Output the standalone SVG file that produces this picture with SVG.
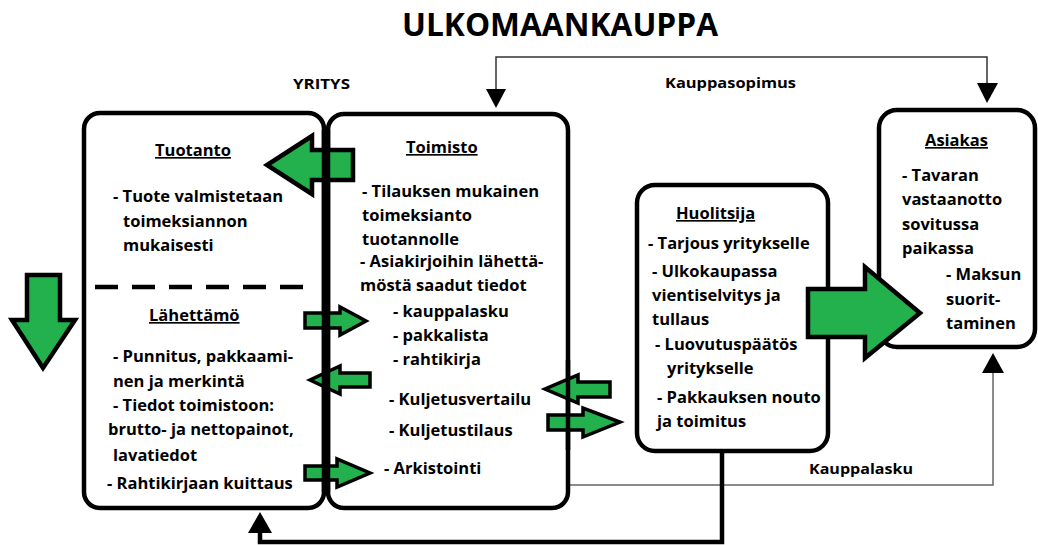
<svg xmlns="http://www.w3.org/2000/svg" width="1038" height="545" viewBox="0 0 1038 545">
<style>
.box{fill:#fff;stroke:#000;stroke-width:4.5}
.t{font-family:"Open Sans","Liberation Sans",sans-serif;font-weight:700;font-size:16.5px;fill:#000}
.h{text-decoration:underline}
.title{font-size:32px}
.lbl{font-size:15px}
.g{fill:#22b14c;stroke:#000;stroke-width:4.5;stroke-linejoin:miter}
.gs{fill:#22b14c;stroke:#000;stroke-width:3.5;stroke-linejoin:miter}
.thin{fill:none;stroke:#333;stroke-width:1.5}
.gray{fill:none;stroke:#666;stroke-width:1.5}
.thick{fill:none;stroke:#000;stroke-width:4.5}
.ah{fill:#000}
</style>
<rect width="1038" height="545" fill="#fff"/>
<text class="t title" x="402" y="36" textLength="316" lengthAdjust="spacingAndGlyphs">ULKOMAANKAUPPA</text>
<text class="t lbl" x="293" y="89" textLength="57" lengthAdjust="spacingAndGlyphs">YRITYS</text>
<text class="t lbl" x="665" y="88" textLength="131" lengthAdjust="spacingAndGlyphs">Kauppasopimus</text>
<text class="t lbl" x="809" y="474" textLength="104" lengthAdjust="spacingAndGlyphs">Kauppalasku</text>

<g id="connectors">
<path class="thin" d="M496,90 V57 H987 V84"/>
<polygon class="ah" points="486,89 506,89 496,108"/>
<polygon class="ah" points="977,83 998,83 987,103"/>
<path class="gray" d="M568,485 H993 V372"/>
<polygon class="ah" points="982,373 1004,373 993,353"/>
<path class="thick" d="M722,452 V542 H260 V530"/>
<polygon class="ah" points="248,533 272,533 260,512"/>
</g>

<g id="yritys-tuotanto-lahettamo">
<rect class="box" x="84" y="113" width="240" height="395" rx="16"/>
<line x1="95" y1="287" x2="316" y2="287" stroke="#000" stroke-width="4.5" stroke-dasharray="23,14"/>
<text class="t h" x="155" y="156">Tuotanto</text>
<text class="t" x="113" y="202">- Tuote valmistetaan</text>
<text class="t" x="123" y="227">toimeksiannon</text>
<text class="t" x="123" y="251">mukaisesti</text>
<text class="t h" x="149" y="321">Lähettämö</text>
<text class="t" x="113" y="362">- Punnitus, pakkaami-</text>
<text class="t" x="113" y="387">nen ja merkintä</text>
<text class="t" x="113" y="411">- Tiedot toimistoon:</text>
<text class="t" x="108" y="435">brutto- ja nettopainot,</text>
<text class="t" x="113" y="461">lavatiedot</text>
<text class="t" x="107" y="489">- Rahtikirjaan kuittaus</text>
</g>

<g id="toimisto">
<rect class="box" x="328" y="114" width="240" height="394" rx="16"/>
<text class="t h" x="406" y="153">Toimisto</text>
<text class="t" x="362" y="197">- Tilauksen mukainen</text>
<text class="t" x="362" y="221">toimeksianto</text>
<text class="t" x="362" y="245">tuotannolle</text>
<text class="t" x="360" y="267">- Asiakirjoihin lähettä-</text>
<text class="t" x="360" y="291">möstä saadut tiedot</text>
<text class="t" x="393" y="317">- kauppalasku</text>
<text class="t" x="393" y="341">- pakkalista</text>
<text class="t" x="393" y="365">- rahtikirja</text>
<text class="t" x="389" y="405">- Kuljetusvertailu</text>
<text class="t" x="389" y="436">- Kuljetustilaus</text>
<text class="t" x="384" y="474">- Arkistointi</text>
</g>

<g id="huolitsija">
<rect class="box" x="637" y="185" width="191" height="266" rx="18"/>
<text class="t h" x="676" y="219">Huolitsija</text>
<text class="t" x="648" y="249">- Tarjous yritykselle</text>
<text class="t" x="652" y="277">- Ulkokaupassa</text>
<text class="t" x="652" y="301">vientiselvitys ja</text>
<text class="t" x="652" y="325">tullaus</text>
<text class="t" x="655" y="350">- Luovutuspäätös</text>
<text class="t" x="667" y="374">yritykselle</text>
<text class="t" x="657" y="403">- Pakkauksen nouto</text>
<text class="t" x="657" y="427">ja toimitus</text>
</g>

<g id="asiakas">
<rect class="box" x="879" y="110" width="156" height="237" rx="18"/>
<text class="t h" x="925" y="146">Asiakas</text>
<text class="t" x="902" y="181">- Tavaran</text>
<text class="t" x="902" y="205">vastaanotto</text>
<text class="t" x="902" y="230">sovitussa</text>
<text class="t" x="902" y="254">paikassa</text>
<text class="t" x="946" y="280">- Maksun</text>
<text class="t" x="946" y="305">suorit-</text>
<text class="t" x="946" y="329">taminen</text>
</g>

<g id="flow-arrows">
<polygon class="g" points="27,275 60,275 60,320 75,320 43,368 12,320 27,320"/>
<polygon class="g" points="353,150 312,150 312,136 267,165 312,194 312,180 353,180"/>
<polygon class="gs" points="305,313 340,313 340,307 366,321 340,335 340,328 305,328"/>
<polygon class="gs" points="370,373 340,373 340,366 310,380 340,394 340,387 370,387"/>
<polygon class="gs" points="610,382 578,382 578,375 545,389 578,403 578,397 610,397"/>
<polygon class="gs" points="548,415 583,415 583,408 620,422 583,437 583,430 548,430"/>
<polygon class="gs" points="305,466 337,466 337,459 370,473 337,487 337,480 305,480"/>
<line x1="324" y1="130" x2="324" y2="492" stroke="#000" stroke-width="4.5"/>
<line x1="328" y1="130" x2="328" y2="492" stroke="#000" stroke-width="4.5"/>
<line x1="568" y1="360" x2="568" y2="450" stroke="#000" stroke-width="4.5"/>
<polygon class="g" points="808,289 865,289 865,267 920,313 865,358 865,337 808,337"/>
</g>
</svg>
